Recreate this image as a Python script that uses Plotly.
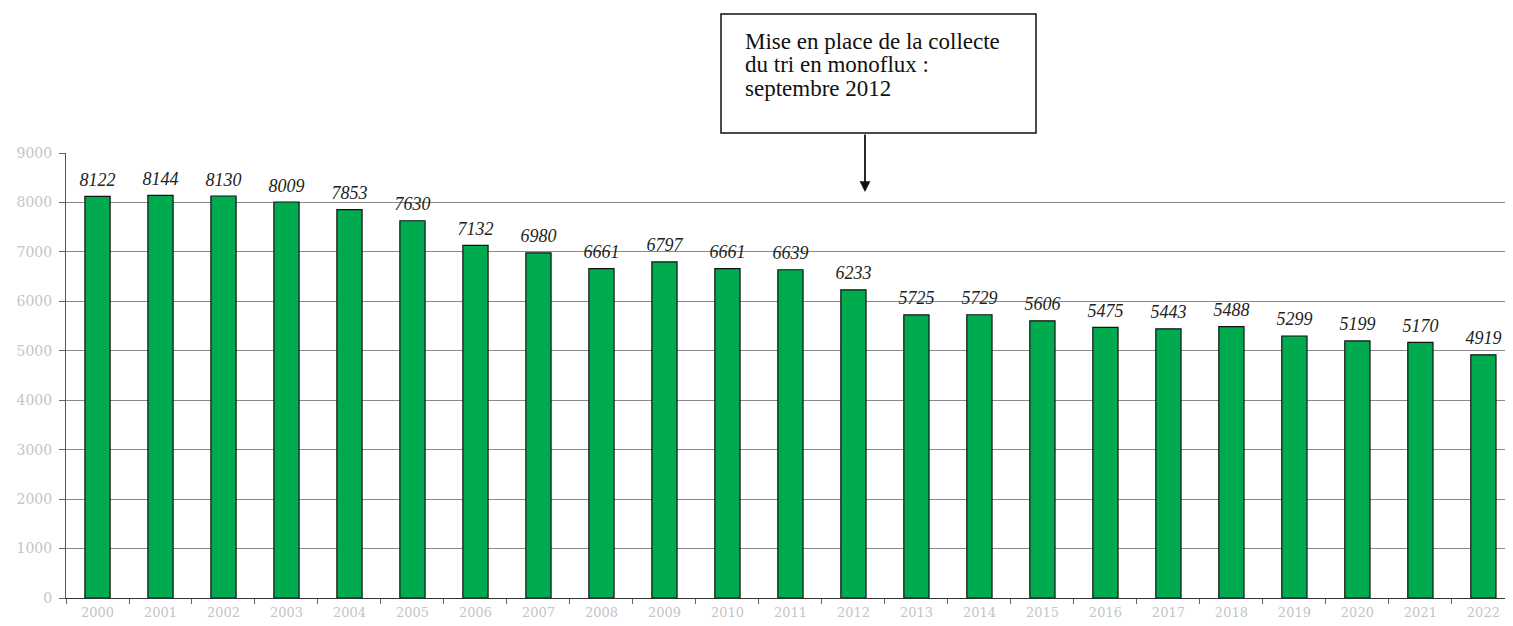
import plotly.graph_objects as go

years = [str(y) for y in range(2000, 2023)]
values = [8122, 8144, 8130, 8009, 7853, 7630, 7132, 6980, 6661, 6797, 6661, 6639,
          6233, 5725, 5729, 5606, 5475, 5443, 5488, 5299, 5199, 5170, 4919]
y_ticks = list(range(0, 9001, 1000))
note_lines = ["Mise en place de la collecte", "du tri en monoflux :", "septembre 2012"]

SERIF = "Liberation Serif, Times New Roman, serif"

fig = go.Figure()
fig.add_trace(go.Bar(
    x=years, y=values,
    marker=dict(color="#00AA4F", line=dict(color="#111111", width=1.2)),
    hoverinfo="x+y",
))
# value labels (italic) placed above bars
fig.add_trace(go.Scatter(
    x=years, y=values, mode="markers+text",
    marker=dict(size=8, color="rgba(0,0,0,0)"),
    text=["<i>%d</i>" % v for v in values], textposition="top center",
    textfont=dict(family=SERIF, size=18, color="#222222"),
    cliponaxis=False, hoverinfo="skip",
))

plot_l, plot_w = 66, 1447
def px(x):
    return (x - plot_l) / plot_w
def py(y):
    return (598 - y) / 445

annotations = []
for i, line in enumerate(note_lines):
    annotations.append(dict(
        xref="paper", yref="paper", x=px(743), y=py(41 + 24 * i),
        xanchor="left", yanchor="middle", showarrow=False, text=line,
        font=dict(family=SERIF, size=23, color="#111111")))
annotations.append(dict(
    xref="paper", yref="paper", x=px(865), y=py(192), ax=0, ay=-59,
    axref="pixel", ayref="pixel", showarrow=True, arrowhead=2, arrowsize=1.2,
    arrowwidth=1.8, arrowcolor="#111111", text=""))

fig.update_layout(
    width=1505, height=617,
    margin=dict(l=58, r=0, t=145, b=27),
    paper_bgcolor="white", plot_bgcolor="white",
    bargap=0.6, showlegend=False,
    font=dict(family=SERIF),
    xaxis=dict(type="category", range=[-0.5, 22.47], automargin=False, showgrid=False,
               showline=True, linecolor="#333333", linewidth=1, ticks="outside",
               tickson="boundaries", ticklen=5, tickcolor="#666666", ticklabelstandoff=2,
               tickfont=dict(family="DejaVu Serif", size=13, color="#c4c4c4")),
    yaxis=dict(range=[0, 9000], tickvals=y_ticks, automargin=False, showgrid=True,
               gridcolor="#8a8a8a", gridwidth=1, showline=True, linecolor="#555555",
               linewidth=1, ticks="outside", ticklen=6, tickcolor="#666666",
               zeroline=False, ticklabelstandoff=4,
               tickfont=dict(family="DejaVu Serif", size=14, color="#c4c4c4")),
    shapes=[dict(type="rect", xref="paper", yref="paper",
                 x0=px(721), x1=px(1036), y0=py(133), y1=py(14),
                 line=dict(color="#111111", width=1.5), fillcolor="white")],
    annotations=annotations,
)

fig.write_html("out.html")
